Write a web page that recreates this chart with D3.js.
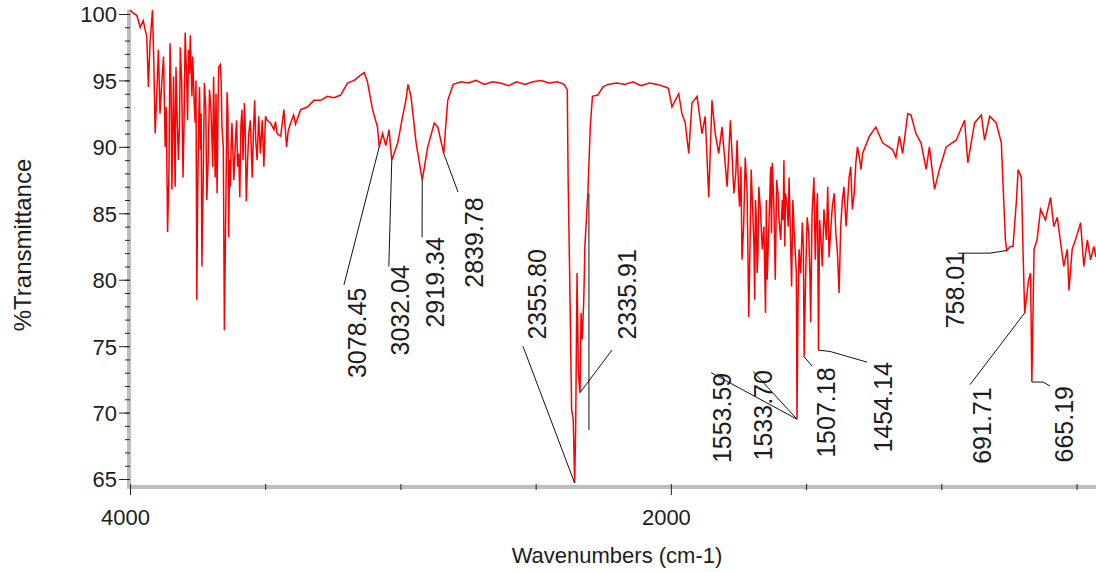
<!DOCTYPE html>
<html>
<head>
<meta charset="utf-8">
<script src="https://cdn.jsdelivr.net/npm/d3@7"></script>
<style>
  body { margin: 0; background: #fff; }
  text { font-family: "Liberation Sans", Arial, sans-serif; fill: #1c1c1c; }
</style>
</head>
<body>
<div id="chart"></div>
<script>
// spectrum (cm-1, %T)
var wavenumbers = [
  4000, 3990, 3975, 3962, 3951, 3944, 3938, 3932, 3926, 3917,
  3912, 3907, 3901, 3895, 3889, 3882, 3876, 3870, 3866, 3861,
  3856, 3852, 3848, 3845, 3839, 3836, 3833, 3830, 3827, 3821,
  3817, 3814, 3809, 3804, 3800, 3796, 3790, 3787, 3784, 3780,
  3777, 3771, 3768, 3765, 3762, 3759, 3756, 3753, 3750, 3746,
  3743, 3740, 3737, 3734, 3729, 3725, 3720, 3716, 3711, 3706,
  3701, 3697, 3694, 3691, 3685, 3682, 3678, 3675, 3672, 3666,
  3663, 3660, 3655, 3651, 3646, 3641, 3638, 3635, 3632, 3629,
  3626, 3623, 3616, 3610, 3606, 3602, 3598, 3594, 3590, 3586,
  3582, 3577, 3574, 3570, 3565, 3561, 3555, 3548, 3543, 3539,
  3535, 3530, 3524, 3518, 3511, 3505, 3499, 3493, 3480, 3468,
  3462, 3456, 3443, 3431, 3421, 3415, 3406, 3395, 3388, 3369,
  3344, 3320, 3295, 3270, 3246, 3221, 3196, 3171, 3147, 3134,
  3122, 3103, 3085, 3078.45, 3066, 3054, 3042, 3032.04, 3010, 2992,
  2980, 2972, 2961, 2942, 2919.34, 2899, 2875, 2862, 2839.78, 2831,
  2825, 2805, 2775, 2750, 2720, 2690, 2660, 2630, 2600, 2570,
  2540, 2510, 2480, 2450, 2420, 2395, 2383, 2380, 2374, 2367,
  2361, 2355.8, 2352, 2347, 2342, 2335.91, 2332, 2328, 2322, 2318,
  2307, 2298, 2290, 2270, 2252, 2233, 2200, 2170, 2140, 2110,
  2080, 2050, 2020, 2009, 1996, 1984, 1971, 1959, 1947, 1934,
  1922, 1903, 1885, 1873, 1860, 1848, 1836, 1823, 1811, 1792,
  1780, 1767, 1760, 1755, 1750, 1746, 1741, 1737, 1731, 1725,
  1718, 1712, 1707, 1703, 1698, 1693, 1690, 1687, 1684, 1681,
  1678, 1675, 1668, 1662, 1656, 1650, 1647, 1644, 1637, 1631,
  1628, 1625, 1619, 1614, 1609, 1604, 1600, 1594, 1588, 1585,
  1582, 1579, 1576, 1570, 1566, 1563, 1558, 1553.59, 1549, 1545,
  1540, 1536, 1533.7, 1530, 1526, 1520, 1514, 1510, 1507.18, 1502,
  1496, 1490, 1486, 1483, 1478, 1471, 1466, 1462, 1458, 1454.14,
  1450, 1445, 1440, 1434, 1425, 1420, 1415, 1408, 1403, 1396,
  1390, 1384, 1378, 1372, 1366, 1360, 1352, 1346, 1341, 1335,
  1329, 1322, 1316, 1310, 1303, 1297, 1291, 1266, 1242, 1217,
  1180, 1168, 1155, 1143, 1124, 1112, 1094, 1075, 1056, 1044,
  1025, 1007, 982, 945, 914, 902, 877, 852, 840, 821,
  797, 778, 772, 763, 758.01, 745, 735, 722, 716, 704,
  698, 691.71, 677, 670, 665.19, 657, 646, 633, 615, 596,
  584, 571, 559, 547, 534, 528, 516, 504, 485, 473,
  460, 448, 436, 428
];
var transmittance = [
  100.3, 100.1, 99.9, 99.0, 99.5, 98.8, 98.3, 94.5, 97.8, 100.3,
  96.5, 91.0, 94.0, 97.3, 92.5, 95.0, 96.8, 90.0, 93.0, 83.6,
  88.0, 97.8, 94.0, 86.8, 95.3, 91.0, 87.0, 96.0, 93.3, 89.0,
  91.5, 97.5, 95.0, 87.7, 92.0, 98.6, 94.8, 92.0, 97.3, 95.5,
  98.4, 93.8, 96.8, 94.8, 93.0, 91.8, 95.0, 78.5, 86.0, 92.0,
  94.5, 89.8, 92.5, 81.0, 88.0, 94.8, 93.0, 86.0, 89.0, 94.3,
  93.0, 90.5, 88.5, 95.3, 87.7, 94.0, 86.5, 92.0, 96.0, 96.2,
  95.0, 91.5, 90.0, 76.2, 85.0, 94.1, 92.5, 83.2, 89.0, 87.0,
  90.0, 91.8, 87.5, 90.5, 92.0, 88.5, 89.5, 86.2, 91.5, 92.8,
  89.0, 93.3, 91.5, 85.9, 89.0, 91.0, 92.0, 87.7, 91.5, 93.5,
  90.5, 89.0, 92.3, 89.5, 92.0, 88.5, 92.3, 92.0, 91.8, 91.3,
  91.9, 91.0, 90.8, 92.8, 90.0, 91.2, 91.8, 92.4, 91.7, 92.8,
  93.0, 93.5, 93.5, 93.8, 93.7, 93.9, 94.8, 95.0, 95.4, 95.6,
  94.9, 92.8, 91.5, 90.0, 91.0, 90.1, 91.3, 89.0, 90.3, 92.3,
  93.5, 94.7, 93.8, 90.3, 87.5, 90.0, 91.8, 91.5, 89.5, 92.0,
  93.5, 94.7, 94.9, 94.8, 95.0, 94.7, 94.9, 94.8, 94.6, 94.9,
  94.7, 94.9, 95.0, 94.8, 94.9, 94.7, 94.3, 87.7, 80.0, 70.2,
  69.5, 64.7, 69.0, 80.5, 73.0, 71.5, 77.5, 75.5, 78.5, 82.5,
  86.5, 91.5, 93.8, 93.9, 94.5, 94.7, 94.8, 94.7, 94.9, 94.6,
  94.8, 94.7, 94.5, 94.4, 93.0, 93.5, 94.0, 92.5, 91.8, 89.5,
  93.3, 93.8, 91.0, 92.3, 86.2, 93.5, 91.0, 89.5, 91.5, 87.0,
  92.0, 86.5, 88.0, 90.5, 87.0, 85.5, 88.5, 81.5, 84.0, 89.2,
  86.5, 77.2, 83.0, 88.3, 85.5, 82.8, 78.5, 86.0, 84.5, 80.5,
  82.0, 87.0, 85.0, 82.3, 84.0, 77.5, 86.0, 80.0, 84.5, 88.5,
  83.5, 88.8, 85.5, 80.0, 87.5, 86.5, 84.5, 83.0, 86.0, 84.5,
  89.0, 82.5, 86.5, 85.5, 84.0, 87.7, 83.5, 79.5, 86.0, 84.0,
  82.0, 80.5, 69.5, 78.0, 82.3, 80.5, 84.3, 82.5, 74.2, 80.0,
  84.7, 83.5, 80.5, 76.8, 85.0, 87.7, 81.5, 84.7, 86.5, 74.7,
  84.5, 83.0, 81.0, 85.3, 83.0, 87.0, 81.7, 84.0, 85.5, 86.5,
  83.5, 82.0, 79.0, 84.0, 86.0, 87.0, 84.0, 86.0, 87.7, 88.5,
  85.3, 86.5, 88.8, 90.0, 89.2, 88.3, 89.5, 90.8, 91.5, 90.3,
  89.8, 89.2, 90.8, 89.5, 92.5, 92.4, 91.0, 90.3, 88.3, 90.0,
  86.8, 88.3, 90.0, 90.5, 92.0, 88.8, 91.8, 92.4, 90.5, 92.3,
  91.8, 90.3, 87.3, 83.0, 82.2, 82.5, 82.5, 86.0, 88.3, 87.7,
  82.3, 77.5, 80.0, 80.5, 72.3, 82.3, 83.0, 85.3, 84.5, 86.2,
  84.0, 84.7, 82.8, 81.0, 82.3, 79.2, 82.3, 83.0, 84.3, 81.0,
  83.0, 81.5, 82.5, 81.7
];

var yTicks = [65, 70, 75, 80, 85, 90, 95, 100];
var yMinorTicks = d3.range(65, 101);
var xTicks = [4000, 3500, 3000, 2500, 2000, 1500, 1000, 500];
var xTickLabels = ["4000", "", "", "", "2000", "", "", ""];

var peakLabels = ["3078.45", "3032.04", "2919.34", "2839.78", "2355.80", "2335.91", "1553.59",
  "1533.70", "1507.18", "1454.14", "758.01", "691.71", "665.19"];

// layout of the peak labels: top end of each rotated label, in data units
var labelWn = [3160, 3001, 2872, 2728, 2495, 2162, 1811, 1659, 1426, 1215, 949, 849, 546];
var labelT = [79.4, 81.1, 83.2, 86.2, 82.3, 82.3, 73.0, 73.2, 73.4, 73.8, 82.1, 71.9, 72.0];
// leader lines from peak to label, in data units
var leaders = [
  [[3078.45, 90.0], [3209, 79.6]],
  [[3032.04, 89.0], [3043, 81.0]],
  [[2919.34, 87.5], [2920, 83.2]],
  [[2839.78, 89.5], [2787, 86.6]],
  [[2355.8, 64.7], [2547, 75.0]],
  [[2335.91, 71.5], [2218, 74.7]],
  [[1533.7, 69.5], [1851, 73.0]],
  [[1533.7, 69.5], [1696, 73.1]],
  [[1507.18, 74.2], [1478, 73.5]],
  [[1454.14, 74.7], [1411, 74.6], [1275, 73.8]],
  [[758.01, 82.2], [820, 82.0], [938, 82.0]],
  [[691.71, 77.5], [894, 72.1]],
  [[665.19, 72.3], [624, 72.3], [598, 72.0]],
  [[2303, 86.5], [2303, 68.7]]
];

var width = 1096;
var height = 572;

var x = d3.scaleLinear().domain([4000, 428]).range([130, 1096]);
var y = d3.scaleLinear().domain([64.4, 100.3]).range([487, 10]);

const svg = d3.select("#chart").append("svg").attr("width", width).attr("height", height);

// y axis: grey band, minor ticks, labelled major ticks
svg.append("g")
  .attr("transform", "translate(129,0)")
  .call(d3.axisLeft(y).tickValues(yTicks).tickSize(10).tickPadding(2).tickSizeOuter(0))
  .attr("font-size", 22)
  .call(g => g.select(".domain").attr("stroke", "#bdbdbd").attr("stroke-width", 4).attr("d", "M0,489V10"))
  .call(g => g.selectAll(".tick line").attr("stroke", "#222"))
  .call(g => g.selectAll(".tick text").attr("dy", "0.36em"));

svg.append("g")
  .attr("transform", "translate(130,0)")
  .call(d3.axisLeft(y).tickValues(yMinorTicks).tickSize(5).tickFormat(""))
  .call(g => g.select(".domain").remove())
  .call(g => g.selectAll(".tick line").attr("stroke", "#222"));

// x axis
svg.append("g")
  .attr("transform", "translate(0,487)")
  .call(d3.axisBottom(x).tickValues(xTicks).tickFormat((d, i) => xTickLabels[i]).tickSize(0).tickSizeOuter(0))
  .attr("font-size", 22)
  .call(g => g.select(".domain").attr("stroke", "#bdbdbd").attr("stroke-width", 4).attr("d", "M127,0H1096"))
  .call(g => g.selectAll(".tick line").attr("stroke", "#222").attr("y1", -3).attr("y2", (d, i) => xTickLabels[i] ? 8 : 3))
  .call(g => g.selectAll(".tick text").attr("y", 38).attr("dy", 0).attr("dx", -5));

// spectrum
var spectrum = wavenumbers.map((w, i) => [w, transmittance[i]]);
svg.append("path")
  .datum(spectrum)
  .attr("fill", "none")
  .attr("stroke", "#ff0000")
  .attr("stroke-width", 1.5)
  .attr("d", d3.line().x(d => x(d[0])).y(d => y(d[1])));

// peak annotations
svg.append("g")
  .selectAll("path").data(leaders).enter().append("path")
  .attr("fill", "none")
  .attr("stroke", "#111")
  .attr("stroke-width", 1)
  .attr("d", d3.line().x(d => x(d[0])).y(d => y(d[1])));

svg.append("g")
  .attr("font-size", 25)
  .selectAll("text").data(peakLabels).enter().append("text")
  .attr("transform", (d, i) => `translate(${x(labelWn[i])},${y(labelT[i])}) rotate(-90)`)
  .attr("text-anchor", "end")
  .attr("dy", "0.35em")
  .text(d => d);

// axis titles
svg.append("text")
  .attr("x", 617).attr("y", 563)
  .attr("text-anchor", "middle")
  .attr("font-size", 22)
  .text("Wavenumbers (cm-1)");

svg.append("text")
  .attr("transform", "translate(31,245) rotate(-90)")
  .attr("text-anchor", "middle")
  .attr("font-size", 24)
  .text("%Transmittance");
</script>
</body>
</html>
